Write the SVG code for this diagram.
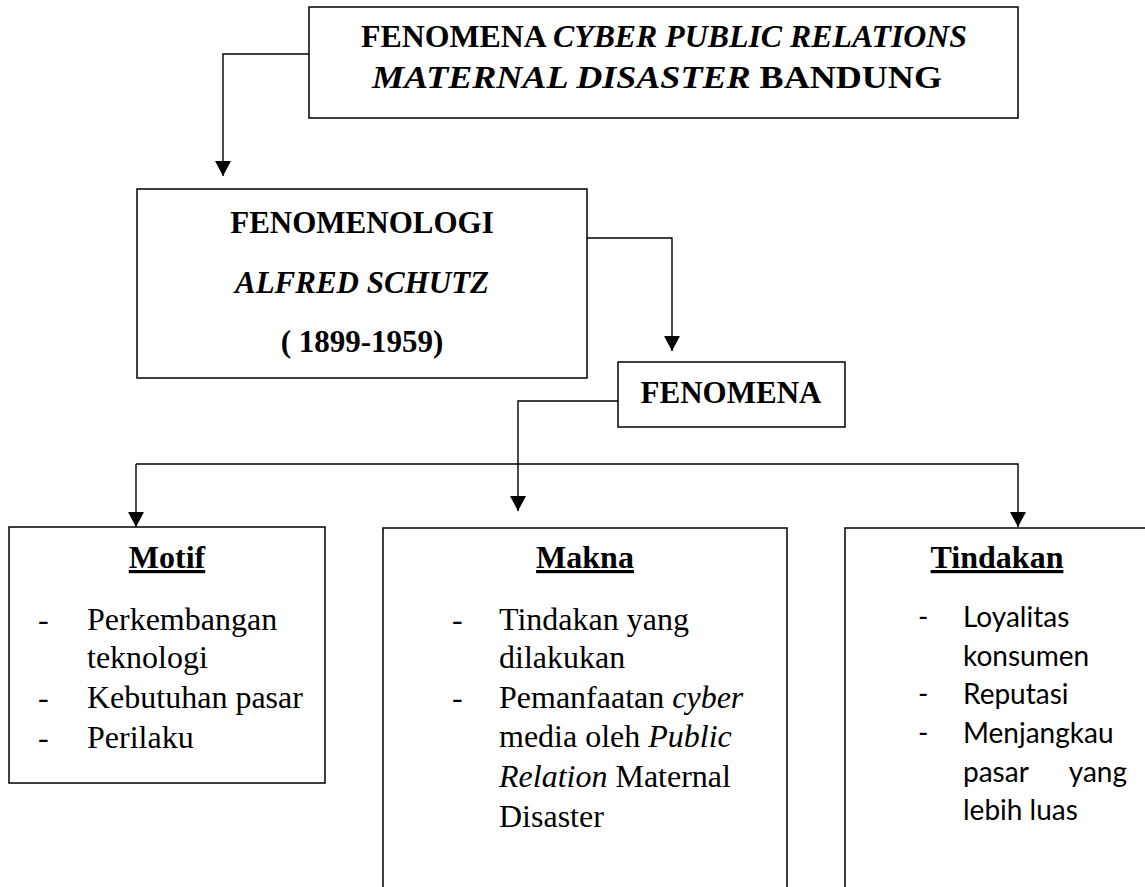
<svg xmlns="http://www.w3.org/2000/svg" width="1145" height="887" viewBox="0 0 1145 887">
<style>
.box{fill:#fff;stroke:#000;stroke-width:1.5}
.con{fill:none;stroke:#000;stroke-width:1.4}
.t{font-family:"Liberation Serif","Times New Roman",serif;fill:#000}
.b{font-weight:bold}
.i{font-style:italic}
.h{font-family:"Liberation Serif","Times New Roman",serif;font-size:32px;font-weight:bold;text-decoration:underline;text-anchor:middle}
.r{font-family:"Liberation Serif","Times New Roman",serif;font-size:32px}
.s{font-family:Lato,"Open Sans",sans-serif;font-size:28px}
</style>
<defs>
<marker id="ad" markerUnits="userSpaceOnUse" markerWidth="16" markerHeight="16" viewBox="0 0 16 16" refX="8" refY="15" orient="0">
<path d="M0,0 L16,0 L8,15 Z" fill="#000"/>
</marker>
</defs>

<g id="connectors">
<polyline class="con" points="309,54 223,54 223,176" marker-end="url(#ad)"/>
<polyline class="con" points="587,238 672,238 672,351" marker-end="url(#ad)"/>
<polyline class="con" points="618,401 518,401 518,511" marker-end="url(#ad)"/>
<polyline class="con" points="136,464 1018,464 1018,527" marker-end="url(#ad)"/>
<line class="con" x1="136" y1="464" x2="136" y2="527" marker-end="url(#ad)"/>
</g>

<g id="node-top">
<rect class="box" x="309" y="7" width="709" height="111"/>
<text class="t b" x="664" y="47" font-size="31" text-anchor="middle" textLength="606" lengthAdjust="spacingAndGlyphs">FENOMENA <tspan class="i">CYBER PUBLIC RELATIONS</tspan></text>
<text class="t b" x="657" y="88" font-size="31" text-anchor="middle" textLength="570" lengthAdjust="spacingAndGlyphs"><tspan class="i">MATERNAL DISASTER</tspan> BANDUNG</text>
</g>

<g id="node-fenomenologi">
<rect class="box" x="137" y="189" width="450" height="189"/>
<text class="t b" x="362" y="233" font-size="31" text-anchor="middle">FENOMENOLOGI</text>
<text class="t b i" x="362" y="293" font-size="31" text-anchor="middle">ALFRED SCHUTZ</text>
<text class="t b" x="362" y="352" font-size="31" text-anchor="middle">( 1899-1959)</text>
</g>

<g id="node-fenomena">
<rect class="box" x="618" y="362" width="227" height="65"/>
<text class="t b" x="731" y="403" font-size="31" text-anchor="middle">FENOMENA</text>
</g>

<g id="node-motif">
<rect class="box" x="9" y="527" width="316" height="256"/>
<text class="h" x="167" y="568">Motif</text>
<text class="r" x="38" y="630">-</text>
<text class="r" x="87" y="630">Perkembangan</text>
<text class="r" x="87" y="668">teknologi</text>
<text class="r" x="38" y="708">-</text>
<text class="r" x="87" y="708">Kebutuhan pasar</text>
<text class="r" x="38" y="748">-</text>
<text class="r" x="87" y="748">Perilaku</text>
</g>

<g id="node-makna">
<path class="box" d="M383,890 L383,528 L787,528 L787,890"/>
<text class="h" x="585" y="568">Makna</text>
<text class="r" x="452" y="630">-</text>
<text class="r" x="499" y="630">Tindakan yang</text>
<text class="r" x="499" y="668">dilakukan</text>
<text class="r" x="452" y="708">-</text>
<text class="r" x="499" y="708">Pemanfaatan <tspan font-style="italic">cyber</tspan></text>
<text class="r" x="499" y="747">media oleh <tspan font-style="italic">Public</tspan></text>
<text class="r" x="499" y="787"><tspan font-style="italic">Relation</tspan> Maternal</text>
<text class="r" x="499" y="827">Disaster</text>
</g>

<g id="node-tindakan">
<path class="box" d="M845,890 L845,528 L1150,528"/>
<text class="h" x="997" y="568">Tindakan</text>
<text class="s" x="918" y="627">-</text>
<text class="s" x="963" y="627">Loyalitas</text>
<text class="s" x="963" y="666">konsumen</text>
<text class="s" x="918" y="704">-</text>
<text class="s" x="963" y="704">Reputasi</text>
<text class="s" x="918" y="743">-</text>
<text class="s" x="963" y="743">Menjangkau</text>
<text class="s" x="963" y="782">pasar</text>
<text class="s" x="1127" y="782" text-anchor="end">yang</text>
<text class="s" x="963" y="820">lebih luas</text>
</g>
</svg>
